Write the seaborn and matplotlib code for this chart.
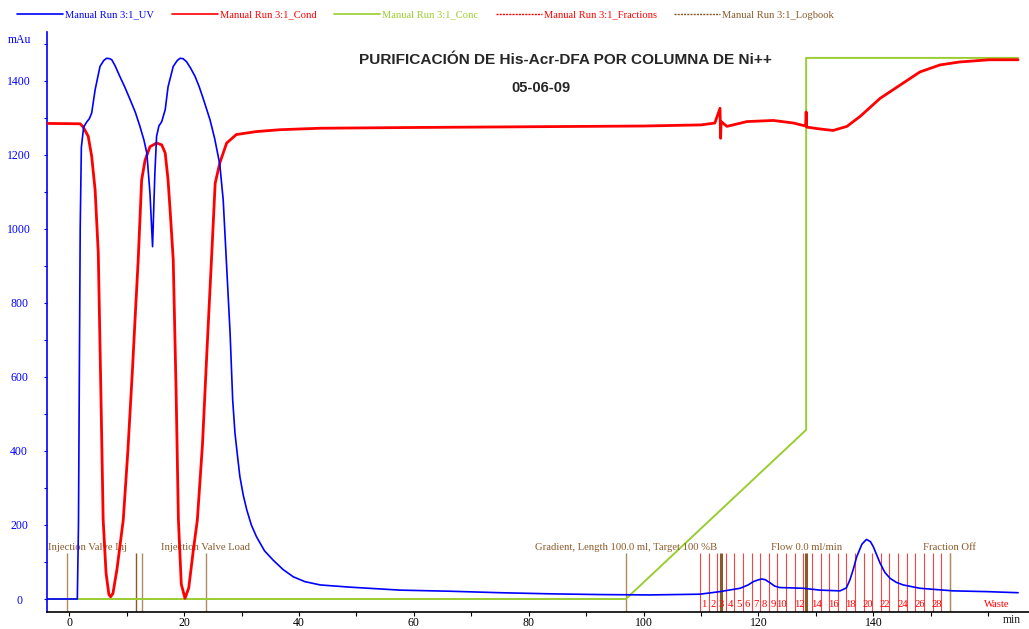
import matplotlib
matplotlib.use('Agg')
import matplotlib.pyplot as plt
import seaborn as sns
from matplotlib.lines import Line2D
from matplotlib.ticker import MultipleLocator, FixedLocator

# ---------------- data ----------------
uv_time = [-3.88, 1.4, 1.6, 1.75, 1.9, 2.1, 2.5, 3.0, 3.5, 3.9, 4.5, 5.35, 6.0, 6.5, 7.0, 7.4, 8.0, 8.8,
           9.7, 10.6, 11.5, 12.3, 13.0, 13.5, 14.05, 14.5, 14.9, 15.2, 15.6, 16.1, 16.7, 17.2, 18.1, 18.8,
           19.3, 19.8, 20.4, 21.1, 21.9, 22.6, 23.3, 24.5, 25.3, 26.2, 26.8, 27.4, 28.0, 28.45,
           28.85, 29.3, 29.7, 30.3, 30.9, 31.7, 32.6, 34.0, 35.5, 37.2, 39.0, 41.0, 43.7, 48.9,
           57.6, 66.3, 75.0, 83.7, 92.4, 101.0, 109.8, 113.3, 116.8, 118.2, 119.1, 120.0, 120.6,
           121.2, 122.0, 122.8, 123.7, 127.8, 130.7, 134.2, 135.3, 135.9, 136.5, 137.1, 138.0,
           138.8, 139.5, 140.0, 141.2, 142.0, 142.9, 144.0, 145.2, 148.1, 153.9, 159.7, 165.2]
uv_mau = [0, 0, 200, 600, 1000, 1220, 1275, 1288, 1298, 1313, 1376, 1439, 1455, 1461, 1460, 1457, 1440, 1412,
          1382, 1349, 1315, 1277, 1240, 1205, 1096, 952, 1150, 1250, 1278, 1290, 1322, 1384, 1439, 1455,
          1461, 1460, 1452, 1435, 1412, 1385, 1353, 1295, 1245, 1175, 1078, 898, 718, 538,
          448, 385, 331, 280, 241, 200, 168, 130, 105, 80, 60, 47, 38, 32,
          24, 21, 17, 14, 12, 11, 13, 20, 29, 38, 47, 52, 54,
          52, 44, 35, 31, 29, 24, 22, 30, 51, 80, 114, 148,
          161, 155, 141, 96, 72, 56, 45, 38, 29, 22, 20, 17]

cond_time = [-3.88, 1.9, 2.44, 3.3, 3.9, 4.5, 5.05, 5.5, 5.9, 6.4, 6.9, 7.2, 7.6, 8.3, 9.4,
             10.2, 11.0, 11.5, 12.0, 12.6, 13.2, 14.05, 15.2, 16.1, 16.7, 17.2, 17.6, 18.1,
             18.6, 19.0, 19.5, 20.15, 20.8, 21.6, 22.3, 23.2, 24.0, 24.8, 25.4, 26.2, 27.4,
             29.1, 32.6, 36.7, 43.7, 60.0, 80.0, 100.0, 110.0, 112.4, 113.3, 113.4, 113.5,
             114.5, 118.0, 122.6, 126.1, 128.2, 128.3, 128.4, 130.7, 133.0, 135.4, 137.7,
             141.2, 144.7, 148.1, 151.6, 155.0, 160.2, 165.2]
cond_ms = [1285, 1284, 1275, 1250, 1196, 1105, 934, 560, 214, 70, 12, 6, 15, 80, 214,
           400, 620, 770, 916, 1132, 1186, 1222, 1232, 1227, 1205, 1132, 1040, 916,
           560, 214, 40, 2, 30, 132, 214, 420, 680, 930, 1123, 1178, 1232,
           1255, 1263, 1268, 1272, 1274, 1276, 1278, 1281, 1286, 1326, 1245, 1290,
           1277, 1290, 1293, 1286, 1278, 1316, 1275, 1270, 1266, 1277, 1304,
           1353, 1389, 1424, 1443, 1451, 1457, 1457]

conc_time = [-3.88, 96.9, 128.3, 128.3, 165.2]
conc_val = [0, 0, 457, 1462, 1462]

fraction_edges = [109.8, 111.3, 112.8, 114.3, 115.8, 117.3, 118.8, 120.3, 121.8, 123.3,
                  124.8, 126.3, 127.8, 129.3, 130.8, 132.3, 133.8, 135.3, 136.8, 138.3,
                  139.8, 141.3, 142.8, 144.3, 145.8, 147.3, 148.8, 150.3, 151.8, 153.3]
fraction_labels = ['1', '2', '3', '4', '5', '6', '7', '8', '9', '10', '', '12', '', '14', '',
                   '16', '', '18', '', '20', '', '22', '', '24', '', '26', '', '28', '']

log_time = [-0.4, 11.6, 12.6, 23.75, 96.9, 113.4, 128.3, 153.3]
log_text = ['Injection Valve Inj', '', '', 'Injection Valve Load',
            'Gradient, Length 100.0 ml, Target 100 %B', '', 'Flow 0.0 ml/min', 'Fraction Off']

x_ticks = [0, 20, 40, 60, 80, 100, 120, 140]
y_ticks = [0, 200, 400, 600, 800, 1000, 1200, 1400]

legend_labels = ['Manual Run 3:1_UV', 'Manual Run 3:1_Cond', 'Manual Run 3:1_Conc',
                 'Manual Run 3:1_Fractions', 'Manual Run 3:1_Logbook']

# ---------------- style ----------------
BLUE = '#0000ff'
RED = '#ff0000'
GREEN = '#9acd32'
BROWN = '#8b5a2b'
TAN = '#b08a60'
FS = 7.7

sns.set_style('white')
plt.rcParams['font.family'] = ['Liberation Serif', 'DejaVu Serif']

W, H = 1029, 629
fig = plt.figure(figsize=(W / 100, H / 100), dpi=100)
ax = fig.add_axes([47 / W, 17 / H, (W - 47) / W, 580 / H])

XMIN, XMAX = -3.88, 167.1
YMIN, YMAX = -35.1, 1532

# fractions
ax.vlines(fraction_edges, YMIN, 124, color=RED, lw=0.8, alpha=0.75, zorder=1)
for i, lab in enumerate(fraction_labels):
    if lab:
        xm = (fraction_edges[i] + fraction_edges[i + 1]) / 2
        ax.text(xm, -14, lab, color=RED, fontsize=FS, ha='center', va='center', zorder=5)
ax.text(161.4, -14, 'Waste', color=RED, fontsize=FS, ha='center', va='center')

# logbook
for t, txt in zip(log_time, log_text):
    dark = t in (11.6, 113.4, 128.3)
    ax.vlines([t], YMIN, 124, color=BROWN if dark else TAN,
              lw=2.2 if t in (113.4, 128.3) else 1.0, zorder=1.5)
    if txt:
        if t < 5:
            ax.text(XMIN + 0.2, 138, txt, color=BROWN, fontsize=FS, ha='left', va='center')
        else:
            ax.text(t, 138, txt, color=BROWN, fontsize=FS, ha='center', va='center')

sns.lineplot(x=conc_time, y=conc_val, ax=ax, color=GREEN, lw=1.4, estimator=None, sort=False, zorder=2)
sns.lineplot(x=cond_time, y=cond_ms, ax=ax, color=RED, lw=2.0, estimator=None, sort=False, zorder=3)
sns.lineplot(x=uv_time, y=uv_mau, ax=ax, color=BLUE, lw=1.2, estimator=None, sort=False, zorder=4)

ax.set_xlim(XMIN, XMAX)
ax.set_ylim(YMIN, YMAX)
ax.set_xlabel('')
ax.set_ylabel('')

for s in ('top', 'right'):
    ax.spines[s].set_visible(False)
ax.spines['left'].set_color(BLUE)
ax.spines['left'].set_linewidth(1.2)
ax.spines['bottom'].set_color('black')
ax.spines['bottom'].set_linewidth(1.2)

ax.xaxis.set_major_locator(FixedLocator(x_ticks))
ax.xaxis.set_minor_locator(MultipleLocator(10))
ax.yaxis.set_major_locator(FixedLocator(y_ticks))
ax.yaxis.set_minor_locator(MultipleLocator(100))
ax.tick_params(axis='x', which='both', direction='out', length=3, width=0.8,
               colors='black', labelsize=8.5, pad=0.5, bottom=True)
ax.tick_params(axis='y', which='both', direction='out', length=2.5, width=0.8,
               colors=BLUE, labelsize=8.5, pad=17.5, left=True)
ax.set_yticklabels([str(v) for v in y_ticks])
for lbl in ax.get_yticklabels():
    lbl.set_horizontalalignment('center')
ax.grid(False)

ax.annotate('min', xy=(164.15, 0), xycoords=('data', 'axes fraction'), xytext=(0, -8),
            textcoords='offset pixels', ha='center', va='center', fontsize=8.5)

fig.text(20 / W, 1 - 40 / H, 'mAu', color=BLUE, fontsize=8.5, ha='center', va='center')

fig.text(565 / W, 1 - 60 / H, 'PURIFICACIÓN DE His-Acr-DFA POR COLUMNA DE Ni++',
         family='Liberation Sans', fontweight='bold',
         fontsize=11.1, ha='center', va='center')
fig.text(541 / W, 1 - 88 / H, '05-06-09', family='Liberation Sans',
         fontweight='bold', fontsize=10.5, ha='center', va='center')

handles = [Line2D([], [], color=BLUE, lw=1.2),
           Line2D([], [], color=RED, lw=1.2),
           Line2D([], [], color=GREEN, lw=1.2),
           Line2D([], [], color=RED, lw=1.0, ls=(0, (1.5, 0.8))),
           Line2D([], [], color=BROWN, lw=1.0, ls=(0, (1.5, 0.8)))]
fig.legend(handles, legend_labels, loc='center left', bbox_to_anchor=(17 / W, 1 - 15 / H),
           ncol=5, frameon=False, fontsize=7.6, handlelength=4.35, handletextpad=0.22,
           columnspacing=1.65, labelcolor=[BLUE, RED, GREEN, RED, BROWN],
           borderaxespad=0, borderpad=0)

fig.savefig('out.png', dpi=100)
